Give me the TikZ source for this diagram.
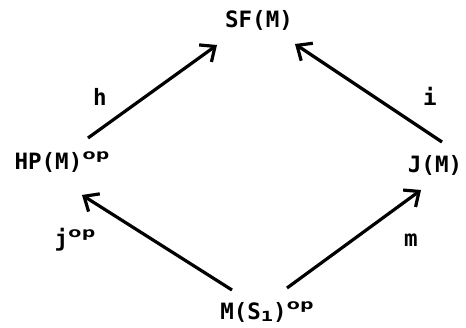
\documentclass[tikz,border=0pt]{standalone}
\usepackage{fontspec}
\usepackage{graphicx}
\setmonofont{DejaVu Sans Mono}
\usetikzlibrary{arrows.meta,calc,positioning}
\newcommand{\opsup}{\raisebox{0.42em}{\scalebox{1}[0.62]{op}}}
\newcommand{\onesub}{\raisebox{-0.1em}{\scalebox{0.9}[0.62]{1}}}

\begin{document}
\begin{tikzpicture}[
    x=1pt, y=-1pt,
    obj/.style={font=\ttfamily\bfseries\fontsize{22.5}{24}\selectfont, inner sep=0pt},
    lbl/.style={font=\ttfamily\bfseries\fontsize{22.5}{24}\selectfont, inner sep=0pt},
    arr/.style={line width=3.2pt, -{Straight Barb[length=12pt,width=21pt,line width=3.2pt]}},
]
\useasboundingbox (0,0) rectangle (466,327);

% ---------- objects ----------
\node[obj] (sf) at (259,20)  {SF(M)};
\node[obj] (hp) at (62,162)  {HP(M)\opsup};
\node[obj] (jm) at (435,165) {J(M)};
\node[obj] (ms) at (267,312) {M(S\onesub)\opsup};

% ---------- maps ----------
\draw[arr] ($(hp)+(26,-24)$) -- ($(sf)+(-42,25)$);
\draw[arr] ($(jm)+(7,-23)$)  -- ($(sf)+(36,24)$);
\draw[arr] ($(ms)+(-35,-22)$) -- ($(hp)+(20,33)$);
\draw[arr] ($(ms)+(20,-24)$) -- ($(jm)+(-14,25)$);

% labels
\node[lbl] (lh) at (100,97)  {h};
\node[lbl] (li) at (430,96)  {i};
\node[lbl] (lj) at (75,240)  {j\opsup};
\node[lbl] (lm) at (411,240) {m};

\end{tikzpicture}
\end{document}
